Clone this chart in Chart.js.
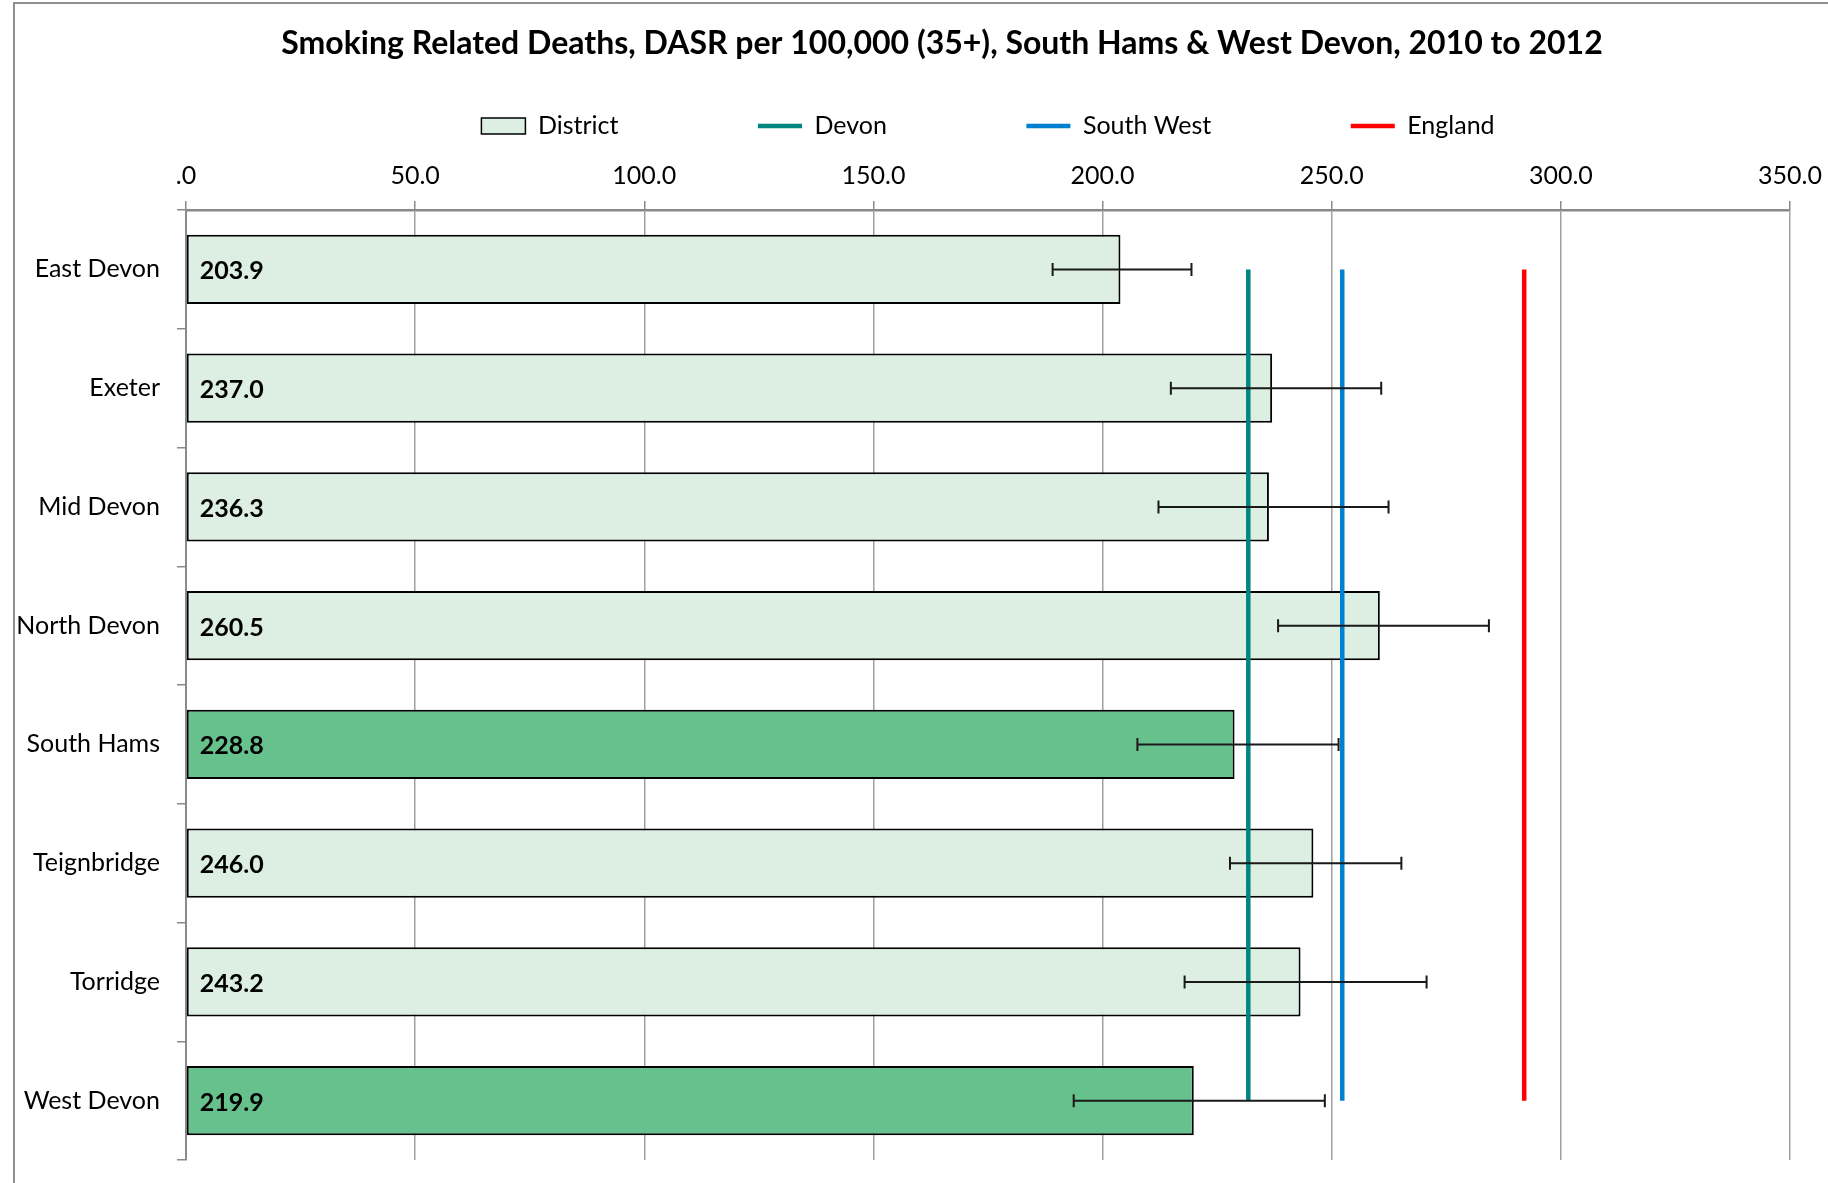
<!DOCTYPE html>
<html>
<head>
<meta charset="utf-8">
<script src="https://cdn.jsdelivr.net/npm/chart.js@4.4.1/dist/chart.umd.min.js"></script>
<style>
  html, body { margin: 0; padding: 0; background: #ffffff; }
  #wrap { position: relative; width: 1828px; height: 1183px; }
</style>
</head>
<body>
<div id="wrap"><canvas id="c" width="1828" height="1183"></canvas></div>
<script>
// ---- data ----
const categories = ['East Devon', 'Exeter', 'Mid Devon', 'North Devon', 'South Hams', 'Teignbridge', 'Torridge', 'West Devon'];
const districtRate = [203.9, 237.0, 236.3, 260.5, 228.8, 246.0, 243.2, 219.9];
const lowerCI = [189.1, 214.9, 212.2, 238.3, 207.6, 227.8, 217.9, 193.7];
const upperCI = [219.4, 260.8, 262.4, 284.3, 251.5, 265.2, 270.7, 248.5];
const highlighted = ['South Hams', 'West Devon'];
const devonRate = 231.8;
const southWestRate = 252.3;
const englandRate = 292.0;
const xTicks = [0, 50, 100, 150, 200, 250, 300, 350];

// ---- styles ----
const FONT = 'Lato';
const CAT_FONT_SIZE = 25;
const lightFill = '#ddefe3';
const darkFill = '#66c18c';
const devonColor = '#00857f';
const swColor = '#0080d0';
const engColor = '#ff0000';

// width of the widest category label (used to right-align the labels next to the axis)
const mctx = document.createElement('canvas').getContext('2d');
mctx.font = CAT_FONT_SIZE + 'px ' + FONT;
const widestCat = Math.max(...categories.map(c => mctx.measureText(c).width));

const firstCat = categories[0];
const lastCat = categories[categories.length - 1];
function refLine(v) { return [{ x: v, y: firstCat }, { x: v, y: lastCat }]; }

const framePlugin = {
  id: 'frame',
  beforeDraw(chart) {
    const ctx = chart.ctx;
    ctx.save();
    ctx.fillStyle = '#ffffff';
    ctx.fillRect(0, 0, chart.width, chart.height);
    ctx.strokeStyle = '#8f8f8f';
    ctx.lineWidth = 2;
    ctx.beginPath();
    ctx.moveTo(14, chart.height + 5);
    ctx.lineTo(14, 3);
    ctx.lineTo(chart.width + 5, 3);
    ctx.stroke();
    ctx.restore();
  }
};

const errorBarPlugin = {
  id: 'errorBars',
  afterDatasetsDraw(chart) {
    const ctx = chart.ctx;
    const meta = chart.getDatasetMeta(0);
    const xs = chart.scales.x;
    ctx.save();
    ctx.strokeStyle = '#1a1a1a';
    ctx.lineWidth = 2;
    meta.data.forEach((el, i) => {
      const y = el.y;
      const x1 = xs.getPixelForValue(lowerCI[i]);
      const x2 = xs.getPixelForValue(upperCI[i]);
      ctx.beginPath();
      ctx.moveTo(x1, y); ctx.lineTo(x2, y);
      ctx.moveTo(x1, y - 6.5); ctx.lineTo(x1, y + 6.5);
      ctx.moveTo(x2, y - 6.5); ctx.lineTo(x2, y + 6.5);
      ctx.stroke();
    });
    // data labels
    ctx.fillStyle = '#000000';
    ctx.font = 'bold 25px ' + FONT;
    ctx.textAlign = 'left';
    ctx.textBaseline = 'middle';
    meta.data.forEach((el, i) => {
      ctx.fillText(districtRate[i].toFixed(1), el.base + 13, el.y + 2);
    });
    ctx.restore();
  }
};

const ctx = document.getElementById('c').getContext('2d');
new Chart(ctx, {
  data: {
    labels: categories,
    datasets: [
      {
        type: 'bar',
        label: 'District',
        data: districtRate,
        backgroundColor: categories.map(c => highlighted.includes(c) ? darkFill : lightFill),
        borderColor: '#000000',
        borderWidth: 2,
        borderSkipped: false,
        barPercentage: 0.585,
        categoryPercentage: 1.0,
        order: 10
      },
      {
        type: 'line', label: 'Devon', data: refLine(devonRate),
        borderColor: devonColor, borderWidth: 4.5, pointRadius: 0, fill: false, order: 1
      },
      {
        type: 'line', label: 'South West', data: refLine(southWestRate),
        borderColor: swColor, borderWidth: 4.5, pointRadius: 0, fill: false, order: 1
      },
      {
        type: 'line', label: 'England', data: refLine(englandRate),
        borderColor: engColor, borderWidth: 4.5, pointRadius: 0, fill: false, order: 1
      }
    ]
  },
  options: {
    indexAxis: 'y',
    responsive: false,
    animation: false,
    devicePixelRatio: 1,
    layout: { padding: { left: 94, right: 38, top: 0, bottom: 23 } },
    scales: {
      x: {
        type: 'linear',
        position: 'top',
        min: 0, max: 350,
        afterBuildTicks(scale) { scale.ticks = xTicks.map(v => ({ value: v })); },
        afterFit(scale) { scale.height = 61.5; scale.paddingLeft = 0; scale.paddingRight = 0; },
        ticks: {
          font: { family: FONT, size: 25 },
          color: '#000000',
          padding: 10,
          maxRotation: 0,
          callback: v => v === 0 ? '.0' : Number(v).toFixed(1)
        },
        grid: { color: '#a0a0a0', lineWidth: 1.5, drawTicks: true, tickLength: 9, tickColor: '#8a8a8a' },
        border: { display: true, color: '#8a8a8a', width: 2.5 }
      },
      y: {
        type: 'category',
        position: 'left',
        offset: true,
        afterFit(scale) { scale.width = 92; scale.paddingTop = 0; scale.paddingBottom = 0; },
        ticks: {
          font: { family: FONT, size: CAT_FONT_SIZE },
          color: '#000000',
          mirror: true,
          crossAlign: 'far',
          padding: -26 - widestCat,
          autoSkip: false
        },
        grid: { drawOnChartArea: false, drawTicks: true, tickLength: 9, offset: true, color: '#8a8a8a', lineWidth: 1.5 },
        border: { display: true, color: '#8a8a8a', width: 2 }
      }
    },
    plugins: {
      title: {
        display: true,
        text: 'Smoking Related Deaths, DASR per 100,000 (35+), South Hams & West Devon, 2010 to 2012',
        color: '#000000',
        font: { family: FONT, size: 32, weight: 'bold', lineHeight: 1.2 },
        padding: { top: 24.8, bottom: 8.8 }
      },
      legend: {
        display: true,
        position: 'top',
        fullSize: false,
        labels: {
          usePointStyle: true,
          pointStyleWidth: 44,
          boxWidth: 44,
          boxHeight: 16,
          padding: 41.5,
          color: '#000000',
          font: { family: FONT, size: 25 },
          generateLabels(chart) {
            const ds = chart.data.datasets;
            const spacer = () => ({ text: '', pointStyle: 'line', fillStyle: 'rgba(0,0,0,0)', strokeStyle: 'rgba(0,0,0,0)', lineWidth: 0, hidden: false });
            const items = [];
            ds.forEach((d, i) => {
              if (i > 0) items.push(spacer());
              if (d.type === 'bar') {
                items.push({ text: d.label, pointStyle: 'rect', fillStyle: lightFill, strokeStyle: '#000000', lineWidth: 1.5, hidden: false, datasetIndex: i });
              } else {
                items.push({ text: d.label, pointStyle: 'line', fillStyle: d.borderColor, strokeStyle: d.borderColor, lineWidth: 4.5, hidden: false, datasetIndex: i });
              }
            });
            return items;
          }
        },
        onClick: () => {}
      },
      tooltip: { enabled: false }
    }
  },
  plugins: [framePlugin, errorBarPlugin]
});
</script>
</body>
</html>
